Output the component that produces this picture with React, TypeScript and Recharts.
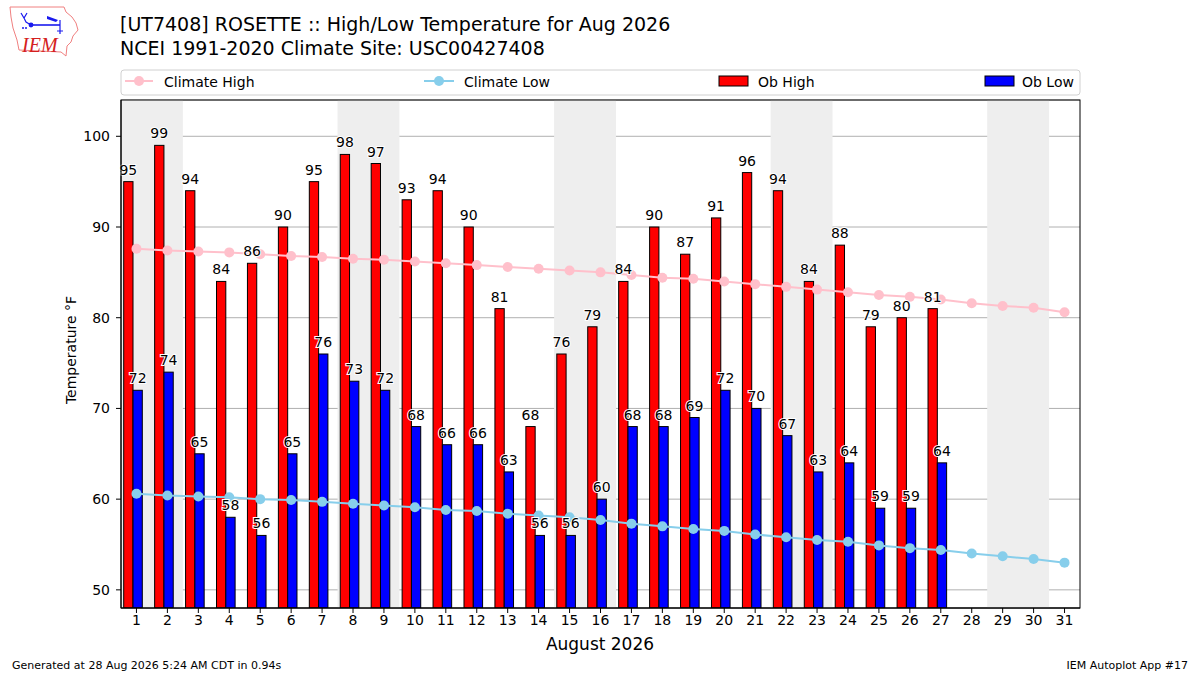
import React from "react";
import {
  ComposedChart,
  Bar,
  Line,
  XAxis,
  YAxis,
  CartesianGrid,
  ReferenceArea,
  LabelList,
} from "recharts";

// days of August 2026
const days = [
  "1", "2", "3", "4", "5", "6", "7", "8", "9", "10", "11", "12", "13", "14", "15", "16",
  "17", "18", "19", "20", "21", "22", "23", "24", "25", "26", "27", "28", "29", "30", "31",
];

const obHigh = [
  95, 99, 94, 84, 86, 90, 95, 98, 97, 93, 94, 90, 81, 68, 76, 79,
  84, 90, 87, 91, 96, 94, 84, 88, 79, 80, 81, null, null, null, null,
];

const obLow = [
  72, 74, 65, 58, 56, 65, 76, 73, 72, 68, 66, 66, 63, 56, 56, 60,
  68, 68, 69, 72, 70, 67, 63, 64, 59, 59, 64, null, null, null, null,
];

const climateHigh = [
  87.6, 87.4, 87.3, 87.2, 87.0, 86.8, 86.7, 86.5, 86.4, 86.2, 86.0, 85.8, 85.6, 85.4, 85.2, 85.0,
  84.7, 84.4, 84.3, 84.0, 83.7, 83.4, 83.1, 82.8, 82.5, 82.3, 82.0, 81.6, 81.3, 81.1, 80.6,
];

const climateLow = [
  60.6, 60.4, 60.3, 60.2, 60.0, 59.9, 59.7, 59.5, 59.3, 59.1, 58.8, 58.7, 58.4, 58.2, 58.0, 57.7,
  57.3, 57.0, 56.7, 56.5, 56.1, 55.8, 55.5, 55.3, 54.9, 54.6, 54.4, 54.0, 53.7, 53.4, 53.0,
];

// weekends get the grey band
const weekends = [
  ["1", "2"],
  ["8", "9"],
  ["15", "16"],
  ["22", "23"],
  ["29", "30"],
];

const yTicks = [50, 60, 70, 80, 90, 100];

const data = days.map((d, i) => ({
  day: d,
  high: obHigh[i],
  low: obLow[i],
  climHigh: climateHigh[i],
  climLow: climateLow[i],
}));

const FONT = '"DejaVu Sans", sans-serif';
const SHIFT = 3.3; // bars sit a bit left of the tick, like the original

const ShiftedBar = (props: any) => {
  const { x, y, width, height, fill } = props;
  if (height == null || !width) return null;
  return (
    <rect
      x={x - SHIFT}
      y={y}
      width={width}
      height={height}
      fill={fill}
      stroke="#000"
      strokeWidth={1}
    />
  );
};

const BarLabel = (props: any) => {
  const { x, y, width, value } = props;
  if (value == null) return null;
  return (
    <text
      x={x + width / 2 - SHIFT}
      y={y - 7}
      textAnchor="middle"
      fontSize={14}
      fontFamily={FONT}
      fill="#000"
      stroke="#fff"
      strokeWidth={2}
      paintOrder="stroke"
    >
      {value}
    </text>
  );
};

const App = () => {
  return (
    <div
      style={{
        position: "absolute",
        left: 0,
        top: 0,
        width: 1200,
        height: 675,
        background: "#fff",
        fontFamily: FONT,
      }}
    >
      <ComposedChart
        width={1200}
        height={675}
        data={data}
        margin={{ top: 100, right: 120, bottom: 37, left: 61 }}
        barGap={0}
        barSize={9.3}
      >
        {weekends.map(([a, b]) => (
          <ReferenceArea
            key={a}
            x1={a}
            x2={b}
            fill="#eeeeee"
            fillOpacity={1}
            stroke="none"
          />
        ))}
        <CartesianGrid vertical={false} stroke="#b0b0b0" strokeWidth={1} />
        <XAxis
          dataKey="day"
          tickLine={{ stroke: "#000" }}
          axisLine={{ stroke: "#000" }}
          tickSize={5}
          tick={{ fontSize: 14, fill: "#000", fontFamily: FONT }}
          interval={0}
          height={30}
        />
        <YAxis
          domain={[48, 104]}
          ticks={yTicks}
          allowDataOverflow
          width={60}
          tickLine={{ stroke: "#000" }}
          axisLine={{ stroke: "#000" }}
          tickSize={5}
          tickMargin={6}
          tick={{ fontSize: 14, fill: "#000", fontFamily: FONT }}
        />
        <Bar dataKey="high" fill="#ff0000" shape={ShiftedBar} isAnimationActive={false}>
          <LabelList dataKey="high" content={BarLabel} />
        </Bar>
        <Bar dataKey="low" fill="#0000ff" shape={ShiftedBar} isAnimationActive={false}>
          <LabelList dataKey="low" content={BarLabel} />
        </Bar>
        <Line
          dataKey="climHigh"
          stroke="#ffc0cb"
          strokeWidth={2}
          dot={{ r: 5, fill: "#ffc0cb", stroke: "#ffc0cb", strokeWidth: 0 }}
          isAnimationActive={false}
        />
        <Line
          dataKey="climLow"
          stroke="#87ceeb"
          strokeWidth={2}
          dot={{ r: 5, fill: "#87ceeb", stroke: "#87ceeb", strokeWidth: 0 }}
          isAnimationActive={false}
        />
      </ComposedChart>

      {/* frame, titles, legend and footer */}
      <svg
        width={1200}
        height={675}
        style={{ position: "absolute", left: 0, top: 0, pointerEvents: "none" }}
        fontFamily={FONT}
      >
        <rect x={121} y={100} width={959} height={508} fill="none" stroke="#000" strokeWidth={1} />

        {/* IEM logo */}
        <polygon
          points="10,7 64,7 66,12 72,17 76,23 78,30 73,36 71,42 67,46 66,56 61,52 19,50 17,40 13,28 11,17"
          fill="none"
          stroke="#f08080"
          strokeWidth={1}
        />
        <line x1={31} y1={25} x2={60} y2={25} stroke="#1a1aee" strokeWidth={1.6} />
        <circle cx={31} cy={25} r={2.4} fill="#1a1aee" />
        <path d="M47,16 L58,20 L56,22 L47,19 Z" fill="#1a1aee" />
        <path d="M21,13 L24,18 L27,13 M24,18 L26,22 L31,25 M60,20 L60,34 M57,31 L63,31" stroke="#1a1aee" strokeWidth={1.2} fill="none" />
        <circle cx={23} cy={28} r={1} fill="#1a1aee" />
        <circle cx={26} cy={28} r={1} fill="#1a1aee" />
        <text x={22} y={52} fontFamily="'Liberation Serif', serif" fontStyle="italic" fontSize={20} fill="#d42020">
          IEM
        </text>

        <text x={120} y={31} fontSize={19} fill="#000">
          [UT7408] ROSETTE :: High/Low Temperature for Aug 2026
        </text>
        <text x={120} y={54.5} fontSize={19} fill="#000">
          NCEI 1991-2020 Climate Site: USC00427408
        </text>

        <rect x={121} y={70} width={959} height={25} rx={3} fill="#fff" stroke="#d0d0d0" strokeWidth={1} />
        <line x1={125} y1={81} x2={153} y2={81} stroke="#ffc0cb" strokeWidth={2} />
        <circle cx={139} cy={81} r={5} fill="#ffc0cb" />
        <text x={164} y={86.5} fontSize={14} fill="#000">Climate High</text>
        <line x1={424} y1={81} x2={454} y2={81} stroke="#87ceeb" strokeWidth={2} />
        <circle cx={439} cy={81} r={5} fill="#87ceeb" />
        <text x={464} y={86.5} fontSize={14} fill="#000">Climate Low</text>
        <rect x={719} y={76} width={29} height={10} fill="#ff0000" stroke="#000" strokeWidth={1} />
        <text x={758} y={86.5} fontSize={14} fill="#000">Ob High</text>
        <rect x={985} y={76} width={29} height={10} fill="#0000ff" stroke="#000" strokeWidth={1} />
        <text x={1022} y={86.5} fontSize={14} fill="#000">Ob Low</text>

        <text transform="translate(75.5,350) rotate(-90)" textAnchor="middle" fontSize={14} fill="#000">
          Temperature °F
        </text>
        <text x={600} y={650} textAnchor="middle" fontSize={17} fill="#000">
          August 2026
        </text>

        <text x={12} y={669} fontSize={11} fill="#000">
          Generated at 28 Aug 2026 5:24 AM CDT in 0.94s
        </text>
        <text x={1188} y={669} textAnchor="end" fontSize={11} fill="#000">
          IEM Autoplot App #17
        </text>
      </svg>
    </div>
  );
};

export default App;
